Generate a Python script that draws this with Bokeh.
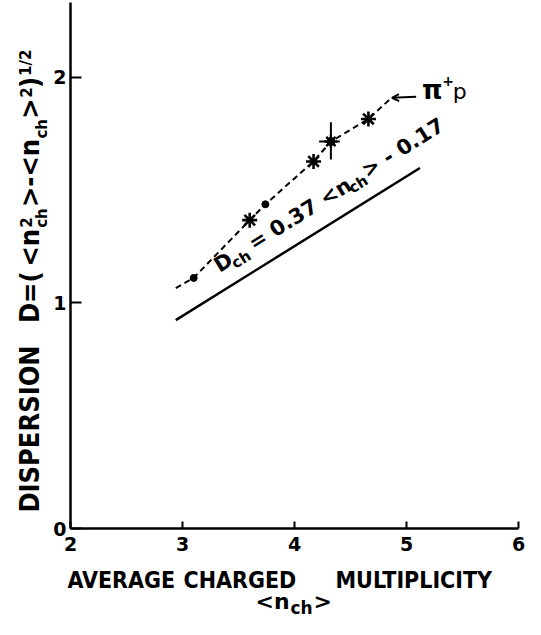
import math
from bokeh.plotting import figure
from bokeh.models import Range1d, FixedTicker, Label, Arrow, OpenHead
from bokeh.embed import file_html
from bokeh.resources import INLINE

# ---- data ----
dot_x = [3.10, 3.74]
dot_y = [1.11, 1.436]
star_x = [3.60, 4.17, 4.66]
star_y = [1.366, 1.626, 1.814]
big_x = [4.325]
big_y = [1.714]
big_x_lo = [4.22]
big_x_hi = [4.405]
big_y_lo = [1.635]
big_y_hi = [1.80]
trend_x = [2.94, 3.10, 3.60, 3.74, 4.17, 4.325, 4.66, 4.86]
trend_y = [1.065, 1.11, 1.366, 1.436, 1.626, 1.714, 1.814, 1.905]
fit_x = [2.94, 5.12]
fit_y = [0.923, 1.597]
x_ticks = [2, 3, 4, 5, 6]
y_ticks = [0, 1, 2]

FONT = "DejaVu Sans"
CFONT = "DejaVu Sans Condensed"
W, H = 525, 619
X0PX, XS = 70, 112.0      # pixel of x=2, pixels per x unit
Y0PX, YS = 528, 225.75    # pixel of y=0, pixels per y unit
xr = Range1d(2 - X0PX / XS, 2 - X0PX / XS + W / XS)
yr = Range1d(-(H - Y0PX) / YS, Y0PX / YS)

p = figure(width=W, height=H, x_range=xr, y_range=yr,
           output_backend="svg", toolbar_location=None,
           min_border_left=0, min_border_right=0, min_border_top=0, min_border_bottom=0)
p.xgrid.visible = False
p.ygrid.visible = False
p.outline_line_color = None
p.background_fill_color = "white"
p.border_fill_color = "white"

for ax in (p.xaxis[0], p.yaxis[0]):
    ax.axis_line_width = 2.5
    ax.axis_line_color = "black"
    ax.major_tick_line_width = 2
    ax.major_tick_line_color = "black"
    ax.major_tick_out = 0
    ax.minor_tick_line_color = None
    ax.major_label_text_font = FONT
    ax.major_label_text_font_style = "bold"
    ax.major_label_text_font_size = "19px"
    ax.major_label_text_color = "black"
p.xaxis.ticker = FixedTicker(ticks=x_ticks)
p.yaxis.ticker = FixedTicker(ticks=y_ticks)
p.xaxis.fixed_location = 0
p.yaxis.fixed_location = 2
p.xaxis.bounds = (2, 6)
p.yaxis.bounds = (0, (Y0PX - 2) / YS)
p.xaxis.major_tick_in = 7
p.yaxis.major_tick_in = 11
p.xaxis.major_label_standoff = 8
p.yaxis.major_label_standoff = 4

# ---- marks ----
p.line(fit_x, fit_y, line_width=2.5, line_color="black")
p.line(trend_x, trend_y, line_width=2, line_color="black", line_dash="6 4")
p.scatter(dot_x, dot_y, marker="circle", size=7, color="black")
p.scatter(star_x, star_y, marker="asterisk", size=15, line_width=2.6, line_color="black")
p.scatter(big_x, big_y, marker="circle", size=8, color="black")
p.scatter(big_x, big_y, marker="asterisk", size=13, line_width=2.4, line_color="black")
p.segment(x0=big_x, y0=big_y_lo, x1=big_x, y1=big_y_hi, line_width=2, line_color="black")
p.segment(x0=big_x_lo, y0=big_y, x1=big_x_hi, y1=big_y, line_width=2, line_color="black")

# ---- text placement helpers ----
RX0, RXS, RY0, RYS = 71, 116, 540, 227.5
def dx(px):
    return 2 + (px - RX0) / RXS
def dy(py):
    return (RY0 - py) / RYS
def mx(px):
    return 2 + (px - X0PX) / XS
def my(py):
    return (Y0PX - py) / YS

MID = 0.36  # em distance from baseline up to the text-box middle

def put(x, y, text, size, angle=0, bold=True, font=FONT):
    th = math.radians(angle)
    off = MID * size
    ox, oy = -math.sin(th) * off, -math.cos(th) * off   # pixels, y down
    p.add_layout(Label(x=x + ox / XS, y=y - oy / YS, text=text, angle=th,
                       text_font=font, text_font_size=f"{size}px",
                       text_font_style="bold" if bold else "normal",
                       text_align="left", text_baseline="middle", text_color="black"))

def lab(px, py, text, size, angle=0, bold=True, font=FONT):
    put(dx(px), dy(py), text, size, angle, bold, font)

def mlab(px, py, text, size, angle=0, bold=True, font=FONT):
    put(mx(px), my(py), text, size, angle, bold, font)

# y axis label (rotated), reference pixels
for t, bx, by, s, f in [("DISPERSION", 39, 524, 27, CFONT), ("D=(", 39, 333, 27, CFONT),
                        ("<n", 39, 276, 27, CFONT), ("2", 30, 237, 15, FONT),
                        ("ch", 47, 237, 15, FONT), (">-<n", 39, 216, 27, CFONT),
                        ("ch", 47, 147, 15, FONT), (">", 39, 127, 27, CFONT),
                        ("2", 30, 106, 15, FONT), (")", 39, 96, 27, CFONT),
                        ("1/2", 30, 84, 15, FONT)]:
    lab(bx, by, t, s, angle=90, font=f)

# x axis label, own-canvas pixels
for t, bx in [("AVERAGE", 67), ("CHARGED", 183), ("MULTIPLICITY", 335)]:
    mlab(bx, 588, t, 23, font=CFONT)
mlab(255, 609, "<n", 22)
mlab(290, 614, "ch", 17)
mlab(313, 609, ">", 22)

# formula along the fitted line (reference pixels)
th = math.radians(32)
ux, uy = math.cos(th), -math.sin(th)
nx, ny = math.sin(th), math.cos(th)
sx0, sy0 = 226, 283
for t, s, n, fs in [("D", 0, 0, 21), ("ch", 16, 5, 15), ("= 0.37 <n", 42, 0, 21),
                    ("ch", 159, 5, 15), ("> - 0.17", 180, 0, 21)]:
    lab(sx0 + s * ux + n * nx, sy0 + s * uy + n * ny, t, fs, angle=32)

# pi+ p annotation
lab(435, 108, "π", 26)
lab(456, 94, "+", 14)
lab(467, 108, "p", 22, bold=False)
p.add_layout(Arrow(x_start=dx(429), y_start=dy(105), x_end=dx(404), y_end=dy(106),
                   line_width=2, line_color="black",
                   end=OpenHead(size=7, line_width=2, line_color="black")))

open("out.html", "w").write(file_html(p, INLINE))
